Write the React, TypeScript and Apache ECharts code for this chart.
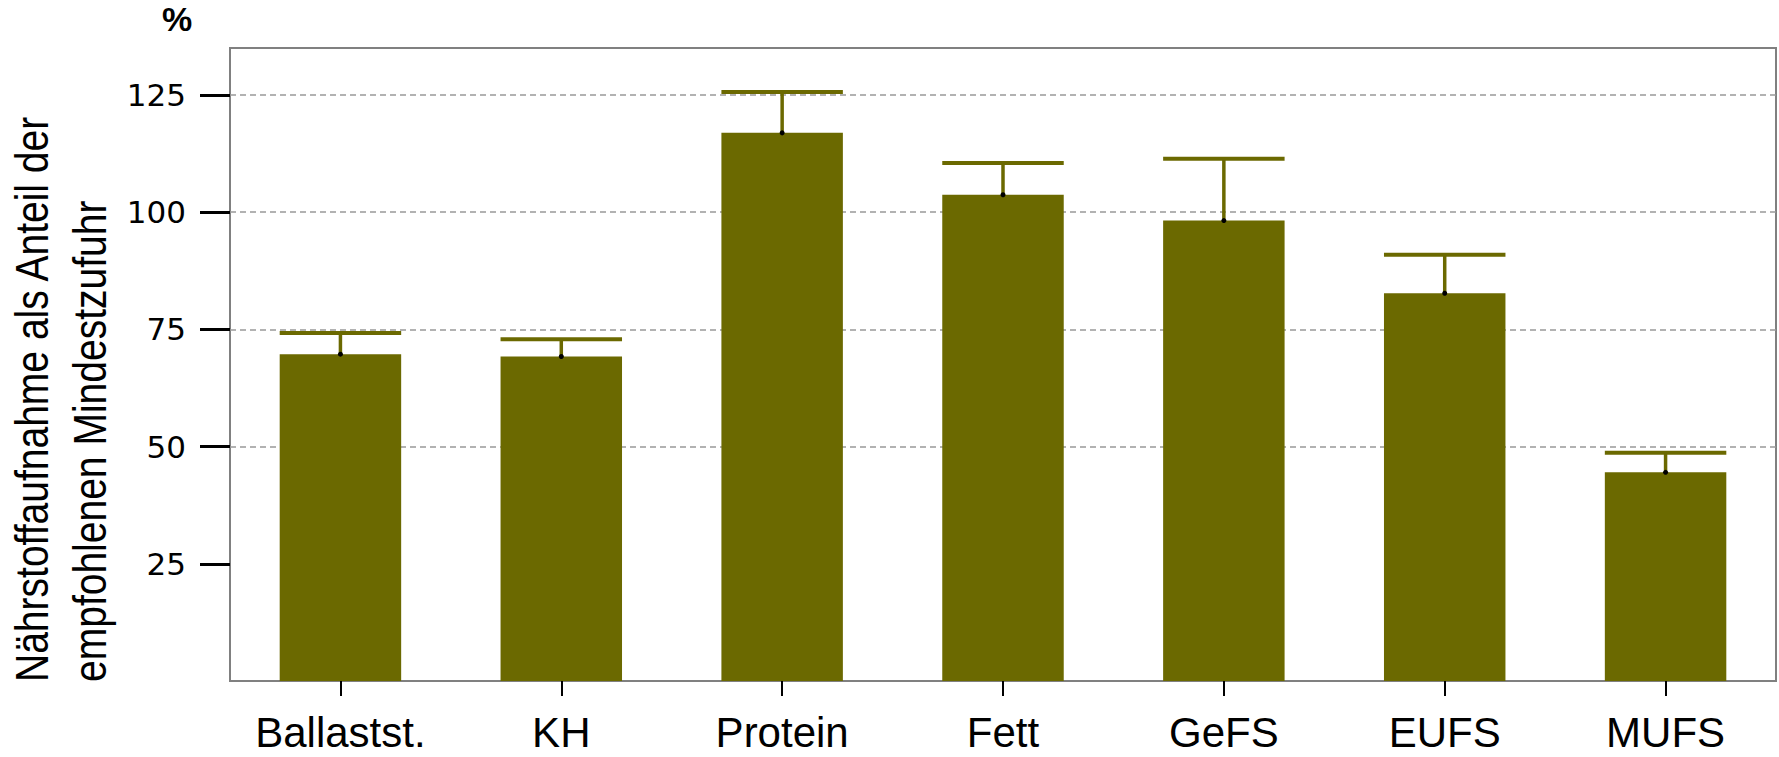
import React, { useEffect, useRef } from "react";
import * as echarts from "echarts";

const categories = ["Ballastst.", "KH", "Protein", "Fett", "GeFS", "EUFS", "MUFS"];
const means = [69.7, 69.2, 116.9, 103.7, 98.2, 82.7, 44.5];
const upper = [74.2, 72.9, 125.6, 110.5, 111.4, 90.9, 48.7];
const yTickValues = [25, 50, 75, 100, 125];
const yTitleLines = ["Nährstoffaufnahme als Anteil der", "empfohlenen Mindestzufuhr"];
const unitLabel = "%";

const BAR_COLOR = "#6b6900";
const SANS = '"Liberation Sans", Arial, sans-serif';

export default function App() {
  const ref = useRef<HTMLDivElement>(null);

  useEffect(() => {
    if (!ref.current) return;
    const chart = echarts.init(ref.current, undefined, { renderer: "svg" });
    const errData = categories.map((_, i) => [i, means[i], upper[i]]);

    chart.setOption({
      animation: false,
      backgroundColor: "#ffffff",
      grid: {
        left: 230,
        right: 3,
        top: 48,
        bottom: 76,
        show: true,
        borderColor: "#808080",
        borderWidth: 2,
        backgroundColor: "transparent",
      },
      xAxis: {
        type: "category",
        data: categories,
        axisLine: { show: false },
        axisTick: {
          show: true,
          alignWithLabel: true,
          length: 15,
          lineStyle: { color: "#000", width: 2 },
        },
        axisLabel: {
          interval: 0,
          hideOverlap: false,
          margin: 30,
          fontSize: 42,
          lineHeight: 42,
          color: "#000",
          fontFamily: SANS,
        },
        splitLine: { show: false },
      },
      yAxis: {
        type: "value",
        min: 0,
        max: 135,
        interval: 25,
        axisLine: { show: false },
        axisTick: {
          show: true,
          length: 30,
          customValues: yTickValues,
          lineStyle: { color: "#000", width: 3 },
        },
        axisLabel: {
          margin: 44,
          fontSize: 31,
          color: "#000",
          fontFamily: '"DejaVu Sans", sans-serif',
          customValues: yTickValues,
        },
        splitLine: {
          show: true,
          showMinLine: false,
          lineStyle: { color: "#999999", width: 1.5, type: [6, 4] },
        },
      },
      graphic: [
        {
          type: "text",
          x: 32,
          y: 682,
          rotation: Math.PI / 2,
          scaleX: 0.83,
          style: {
            text: yTitleLines[0],
            fontSize: 47,
            fontFamily: SANS,
            fill: "#000",
            textAlign: "left",
            textVerticalAlign: "middle",
          },
        },
        {
          type: "text",
          x: 90,
          y: 682,
          rotation: Math.PI / 2,
          scaleX: 0.83,
          style: {
            text: yTitleLines[1],
            fontSize: 47,
            fontFamily: SANS,
            fill: "#000",
            textAlign: "left",
            textVerticalAlign: "middle",
          },
        },
        {
          type: "text",
          x: 177,
          y: 19,
          style: {
            text: unitLabel,
            fontSize: 34,
            fontWeight: "bold",
            fontFamily: SANS,
            fill: "#000",
            textAlign: "center",
            textVerticalAlign: "middle",
          },
        },
      ],
      series: [
        {
          type: "bar",
          data: means,
          barWidth: "55%",
          itemStyle: { color: BAR_COLOR },
          z: 2,
        },
        {
          type: "custom",
          data: errData,
          encode: { x: 0, y: [1, 2] },
          z: 3,
          renderItem: (params: any, api: any) => {
            const i = api.value(0);
            const lo = api.value(1);
            const hi = api.value(2);
            const pLo = api.coord([i, lo]);
            const pHi = api.coord([i, hi]);
            const w = api.size([1, 0])[0] * 0.55;
            return {
              type: "group",
              children: [
                {
                  type: "line",
                  shape: { x1: pLo[0], y1: pLo[1], x2: pHi[0], y2: pHi[1] },
                  style: { stroke: BAR_COLOR, lineWidth: 3.5 },
                },
                {
                  type: "line",
                  shape: { x1: pHi[0] - w / 2, y1: pHi[1], x2: pHi[0] + w / 2, y2: pHi[1] },
                  style: { stroke: BAR_COLOR, lineWidth: 4 },
                },
                {
                  type: "circle",
                  shape: { cx: pLo[0], cy: pLo[1], r: 2.5 },
                  style: { fill: "#000" },
                },
              ],
            };
          },
        },
      ],
    });

    return () => chart.dispose();
  }, []);

  return (
    <div
      ref={ref}
      style={{ position: "absolute", left: 0, top: 0, width: 1779, height: 757 }}
    />
  );
}
